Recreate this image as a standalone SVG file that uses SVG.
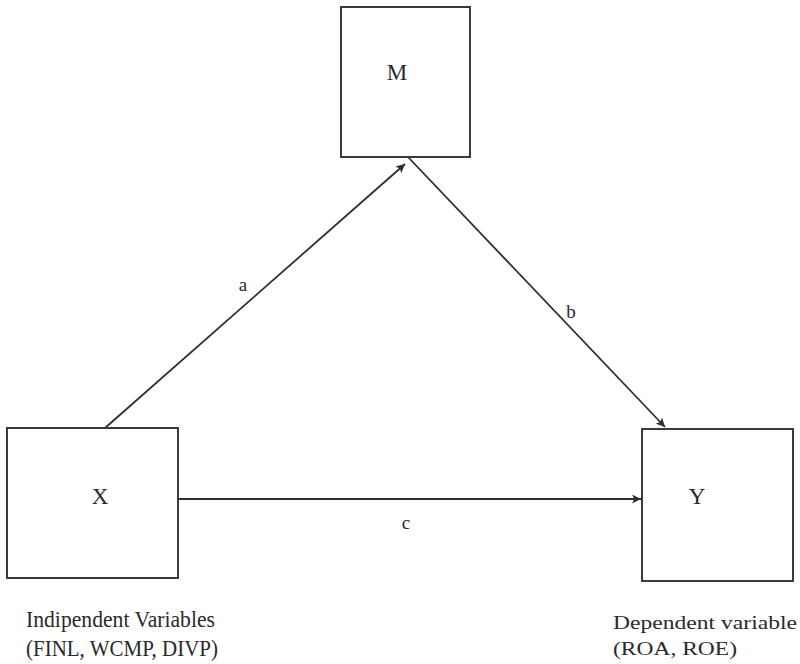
<svg xmlns="http://www.w3.org/2000/svg" width="800" height="664" viewBox="0 0 800 664">
<style>
.box{fill:#fff;stroke:#3a3a3a;stroke-width:2}
.lbl{font-family:"Liberation Serif","Times New Roman",serif;fill:#2a2a2a}
.edge{stroke:#2e2e2e;stroke-width:1.8;fill:none}
</style>
<defs>
<marker id="arr" viewBox="0 0 10 10" refX="10" refY="5" markerWidth="9" markerHeight="9" markerUnits="userSpaceOnUse" orient="auto">
<path d="M0,0 L10,5 L0,10 L2.5,5 z" fill="#2e2e2e"/>
</marker>
</defs>
<rect width="800" height="664" fill="#fff"/>
<g id="connectors">
<line class="edge" x1="105" y1="428" x2="405" y2="164" marker-end="url(#arr)"/>
<line class="edge" x1="408" y1="157" x2="665" y2="427" marker-end="url(#arr)"/>
<line class="edge" x1="178" y1="499" x2="641" y2="499" marker-end="url(#arr)"/>
<text class="lbl" x="243" y="291" font-size="19" text-anchor="middle">a</text>
<text class="lbl" x="571" y="318" font-size="19" text-anchor="middle">b</text>
<text class="lbl" x="406" y="529" font-size="19" text-anchor="middle">c</text>
</g>
<g id="node-M">
<rect class="box" x="341" y="7" width="129" height="150"/>
<text class="lbl" x="397" y="80" font-size="23" text-anchor="middle">M</text>
</g>
<g id="node-X">
<rect class="box" x="7" y="428" width="171" height="150"/>
<text class="lbl" x="100" y="504" font-size="23" text-anchor="middle">X</text>
<text class="lbl" x="26" y="627" font-size="24" textLength="189" lengthAdjust="spacingAndGlyphs">Indipendent Variables</text>
<text class="lbl" x="26" y="656" font-size="24" textLength="192" lengthAdjust="spacingAndGlyphs">(FINL, WCMP, DIVP)</text>
</g>
<g id="node-Y">
<rect class="box" x="642" y="429" width="151" height="152"/>
<text class="lbl" x="697" y="504" font-size="23" text-anchor="middle">Y</text>
<text class="lbl" x="613" y="629" font-size="19" textLength="184" lengthAdjust="spacingAndGlyphs">Dependent variable</text>
<text class="lbl" x="613" y="655" font-size="19" textLength="124" lengthAdjust="spacingAndGlyphs">(ROA, ROE)</text>
</g>
</svg>
